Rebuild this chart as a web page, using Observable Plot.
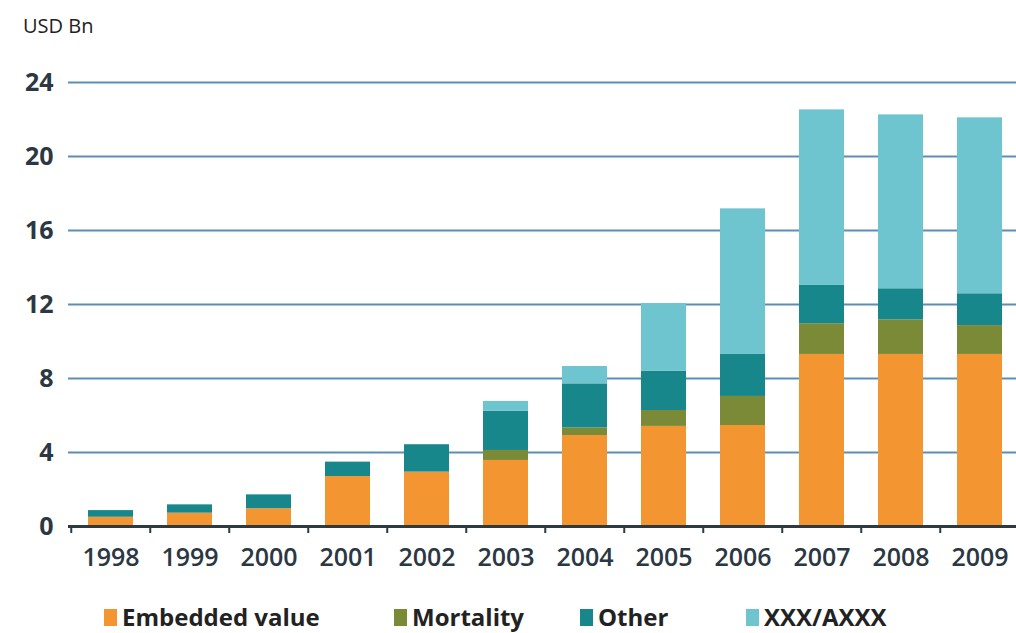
<!DOCTYPE html>
<html><head><meta charset="utf-8">
<script src="https://cdn.jsdelivr.net/npm/d3@7"></script>
<script src="https://cdn.jsdelivr.net/npm/@observablehq/plot@0.6"></script>
<style>
body{margin:0;background:#fff;overflow:hidden;width:1016px;height:633px;position:relative;font-family:"Open Sans",sans-serif}
#title{position:absolute;left:23px;top:16px;font-size:20px;color:#222;line-height:1}
#chart{position:absolute;left:0;top:50px}
#legend{position:absolute;top:600px;left:0;width:1016px;height:33px}
.item{position:absolute;top:0;display:flex;align-items:center;font-size:24px;font-weight:700;color:#222;line-height:34px;white-space:nowrap}
.sw{width:13px;height:17px;margin-right:5px}
</style></head>
<body>
<div id="title">USD Bn</div>
<div id="chart"></div>
<div id="legend"></div>
<script>
const years = ["1998","1999","2000","2001","2002","2003","2004","2005","2006","2007","2008","2009"];
const seriesNames = ["Embedded value","Mortality","Other","XXX/AXXX"];
const seriesColors = ["#f39530","#7b8a37","#17878b","#6ec5cf"];
const embeddedValue = [0.5,0.72,0.96,2.7,2.94,3.57,4.92,5.41,5.46,9.3,9.3,9.3];
const mortality     = [0,0,0,0,0,0.54,0.41,0.86,1.57,1.66,1.87,1.56];
const other         = [0.36,0.45,0.75,0.78,1.48,2.12,2.38,2.13,2.27,2.07,1.68,1.72];
const xxxAxxx       = [0,0,0,0,0,0.53,0.94,3.65,7.87,9.49,9.4,9.51];
const yTicks = [0,4,8,12,16,20,24];
const legendLefts = [104,394,580,746];

const seriesValues = [embeddedValue, mortality, other, xxxAxxx];
const rows = [];
seriesNames.forEach((s, si) => years.forEach((y, yi) => rows.push({year: y, series: s, value: seriesValues[si][yi]})));

const W = 1016, ML = 68, MR = -6;
const step = (W - ML - MR) / years.length;

const chart = Plot.plot({
  width: W, height: 536,
  marginTop: 32, marginBottom: 60, marginLeft: ML, marginRight: MR,
  style: {fontFamily: "'Open Sans', sans-serif", color: "#2b3843", background: "white"},
  x: {domain: years, padding: 0, label: null},
  y: {domain: [0, 24], label: null},
  color: {domain: seriesNames, range: seriesColors},
  marks: [
    Plot.ruleY(yTicks.filter(d => d > 0), {stroke: "#5d8fb6", strokeWidth: 2}),
    Plot.barY(rows, {x: "year", y: "value", fill: "series", order: seriesNames, insetLeft: 17, insetRight: 17}),
    Plot.ruleY([0], {stroke: "#2e3a42", strokeWidth: 3}),
    Plot.axisX({tickSize: 7, tickFormat: () => "", dx: -step / 2, stroke: "#2e3a42", strokeWidth: 2}),
    Plot.axisX({tickSize: 0, tickPadding: 22, fontSize: 25, fontWeight: 600, fill: "#2b3843"}),
    Plot.axisY({ticks: yTicks, tickSize: 0, tickPadding: 15, fontSize: 25, fill: "#2b3843", fontWeight: 700})
  ]
});
document.getElementById("chart").appendChild(chart);

const color = chart.scale("color");
const legend = d3.select("#legend");
color.domain.forEach((name, i) => {
  const it = legend.append("div").attr("class", "item").style("left", legendLefts[i] + "px");
  it.append("div").attr("class", "sw").style("background", color.range[i]);
  it.append("span").text(name);
});
</script>
</body></html>
